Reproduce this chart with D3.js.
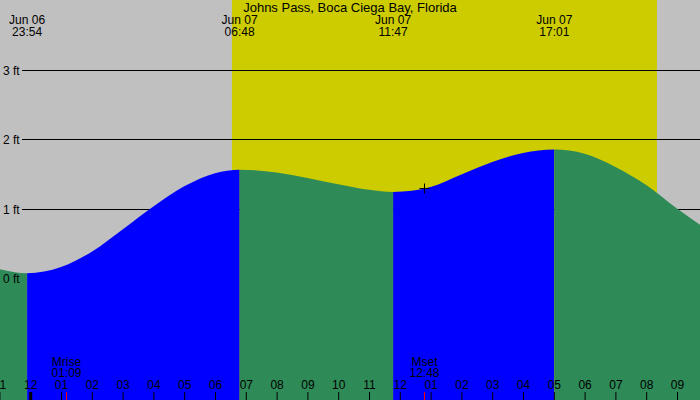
<!DOCTYPE html>
<html>
<head>
<meta charset="utf-8">
<script src="https://cdn.jsdelivr.net/npm/d3@7"></script>
<style>
  html, body { margin: 0; padding: 0; background: #c0c0c0; }
  svg { display: block; }
  text { font-family: "Liberation Sans", Arial, sans-serif; }
</style>
</head>
<body>
<svg id="chart" width="700" height="400"></svg>
<script>
// ---------------- data ----------------
const title = "Johns Pass, Boca Ciega Bay, Florida";

const curveTimes = [
  "2024-06-06 23:00", "2024-06-06 23:54", "2024-06-07 01:00", "2024-06-07 02:00",
  "2024-06-07 03:00", "2024-06-07 04:00", "2024-06-07 05:00", "2024-06-07 06:00",
  "2024-06-07 06:48", "2024-06-07 08:00", "2024-06-07 09:00", "2024-06-07 10:00",
  "2024-06-07 11:00", "2024-06-07 11:47", "2024-06-07 13:00", "2024-06-07 14:00",
  "2024-06-07 15:00", "2024-06-07 16:00", "2024-06-07 17:01", "2024-06-07 18:00",
  "2024-06-07 19:00", "2024-06-07 20:00", "2024-06-07 21:00", "2024-06-07 22:00"
];
const curveHeights = [
  0.14, 0.08, 0.17, 0.39,
  0.71, 1.04, 1.33, 1.52,
  1.57, 1.53, 1.45, 1.36,
  1.28, 1.25, 1.32, 1.50,
  1.68, 1.81, 1.86, 1.80,
  1.61, 1.35, 1.01, 0.70
];

const extremaTimes = ["2024-06-06 23:54", "2024-06-07 06:48", "2024-06-07 11:47", "2024-06-07 17:01"];
const extremaTypes = ["low", "high", "low", "high"];
const extremaDates = ["Jun 06", "Jun 07", "Jun 07", "Jun 07"];
const extremaClock = ["23:54", "06:48", "11:47", "17:01"];

const sunTimes = ["2024-06-07 06:33", "2024-06-07 20:21"]; // sunrise, sunset

const moonNames = ["Mrise", "Mset"];
const moonTimes = ["2024-06-07 01:09", "2024-06-07 12:48"];
const moonClock = ["01:09", "12:48"];

const markerTime = "2024-06-07 12:48";
const markerHeight = 1.30;

const yTicks = [0, 1, 2, 3];
const yTickLabels = ["0 ft", "1 ft", "2 ft", "3 ft"];

const domainTimes = ["2024-06-06 23:00", "2024-06-07 22:00"];

// ---------------- setup ----------------
const parse = d3.timeParse("%Y-%m-%d %H:%M");
const W = 700, H = 400;
const svg = d3.select("#chart");

const x = d3.scaleTime()
  .domain(domainTimes.map(parse))
  .range([-0.6, 707.8]);

const y = d3.scaleLinear()
  .domain([0, 3])
  .range([278.8, 70.3]);

const COL = { night: "#c0c0c0", day: "#cccc00", rise: "#0000ff", fall: "#2e8b57" };

// background
svg.append("rect").attr("x", 0).attr("y", 0).attr("width", W).attr("height", H).attr("fill", COL.night);
const sr = x(parse(sunTimes[0])), ss = x(parse(sunTimes[1]));
svg.append("rect").attr("x", sr).attr("y", 0).attr("width", ss - sr).attr("height", H).attr("fill", COL.day);

// grid lines
svg.append("g").selectAll("line")
  .data(yTicks.filter(d => d > 0))
  .join("line")
  .attr("x1", 22).attr("x2", W)
  .attr("y1", d => Math.floor(y(d)) + 0.5)
  .attr("y2", d => Math.floor(y(d)) + 0.5)
  .attr("stroke", "#000").attr("stroke-width", 1);

// tide area split into rising/falling segments
const pts = curveTimes.map((t, i) => ({ t: parse(t), h: curveHeights[i] }));
const area = d3.area()
  .x(d => x(d.t))
  .y0(H)
  .y1(d => y(d.h))
  .curve(d3.curveMonotoneX);

const bounds = [x.range()[0] - 10, ...extremaTimes.map(t => x(parse(t))), x.range()[1] + 10];
const defs = svg.append("defs");
for (let i = 0; i < bounds.length - 1; i++) {
  let color;
  if (i === 0) color = extremaTypes[0] === "low" ? COL.fall : COL.rise;
  else color = extremaTypes[i - 1] === "low" ? COL.rise : COL.fall;
  const id = "seg" + i;
  defs.append("clipPath").attr("id", id)
    .append("rect")
    .attr("x", bounds[i]).attr("y", 0)
    .attr("width", bounds[i + 1] - bounds[i]).attr("height", H);
  svg.append("path")
    .datum(pts)
    .attr("d", area)
    .attr("fill", color)
    .attr("clip-path", `url(#${id})`);
}

// y labels
svg.append("g").selectAll("text")
  .data(yTicks)
  .join("text")
  .attr("x", 3)
  .attr("y", d => y(d) + 4.5)
  .attr("font-size", 12)
  .attr("fill", "#000")
  .text((d, i) => yTickLabels[i]);

// title
svg.append("text")
  .attr("x", 350).attr("y", 12)
  .attr("text-anchor", "middle")
  .attr("font-size", 13)
  .text(title);

// extrema labels
const ext = svg.append("g").attr("text-anchor", "middle").attr("font-size", 12);
extremaTimes.forEach((t, i) => {
  const xx = x(parse(t));
  ext.append("text").attr("x", xx).attr("y", 24).text(extremaDates[i]);
  ext.append("text").attr("x", xx).attr("y", 36).text(extremaClock[i]);
});

// bottom hour axis
const hourTicks = x.ticks(d3.timeHour.every(1)).filter(d => x(d) <= W);
const axis = d3.axisTop(x)
  .tickValues(hourTicks)
  .tickFormat(d3.timeFormat("%I"))
  .tickSize(8)
  .tickPadding(3);
const gAx = svg.append("g").attr("transform", `translate(0,${H})`).call(axis);
gAx.select(".domain").remove();
gAx.selectAll(".tick line").attr("stroke", "#000")
  .attr("stroke-width", d => d.getHours() === 0 ? 3 : 1);
gAx.selectAll(".tick text")
  .attr("fill", "#000")
  .attr("font-size", 12)
  .attr("font-family", "Liberation Sans, Arial, sans-serif");

// moon events
const moon = svg.append("g");
moonTimes.forEach((t, i) => {
  const xx = Math.round(x(parse(t))) + 0.5;
  moon.append("line").attr("x1", xx).attr("x2", xx).attr("y1", 392).attr("y2", H)
    .attr("stroke", "#ff0000").attr("stroke-width", 1);
  moon.append("text").attr("x", xx).attr("y", 366).attr("text-anchor", "middle")
    .attr("font-size", 12).text(moonNames[i]);
  moon.append("text").attr("x", xx).attr("y", 377).attr("text-anchor", "middle")
    .attr("font-size", 12).text(moonClock[i]);
});

// crosshair marker
const mx = Math.round(x(parse(markerTime))) + 0.5, my = Math.round(y(markerHeight)) + 0.5;
svg.append("path")
  .attr("d", `M${mx - 5},${my}H${mx + 5}M${mx},${my - 5}V${my + 5}`)
  .attr("stroke", "#000").attr("stroke-width", 1);
</script>
</body>
</html>
